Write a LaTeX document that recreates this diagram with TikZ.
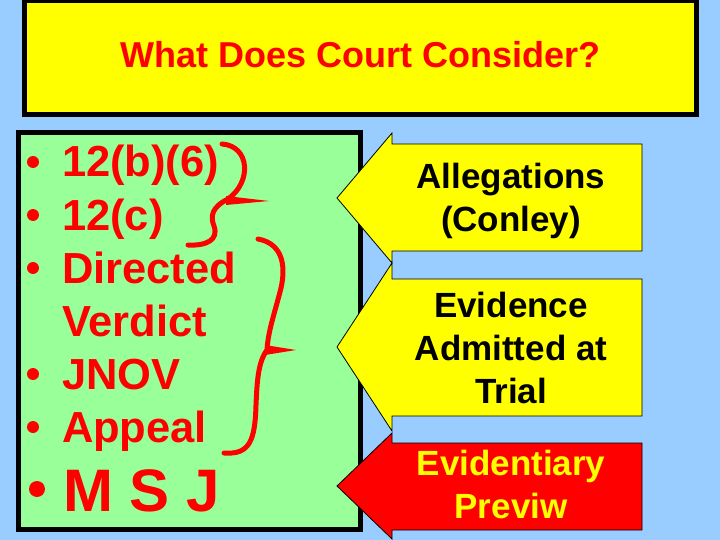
\documentclass[tikz,border=0pt]{standalone}
\usepackage{fontspec}
\setmainfont{Liberation Sans}
\definecolor{bgblue}{HTML}{99CCFF}
\definecolor{boxyellow}{HTML}{FFFF00}
\definecolor{boxgreen}{HTML}{99FF99}
\definecolor{redtxt}{HTML}{FF0000}
\begin{document}
\begin{tikzpicture}[x=1pt,y=-1pt,
  lbl/.style={inner sep=0pt,outer sep=0pt,font=\bfseries\fontsize{43.5}{53}\selectfont,text=redtxt,anchor=base west},
  arrtxt/.style={inner sep=0pt,outer sep=0pt,font=\bfseries\fontsize{35}{43}\selectfont,anchor=base,align=center},
  arrowshape/.style={draw=black,line width=0.8pt,line join=miter},
  brace/.style={draw=redtxt,line width=5pt,line cap=round,line join=round},
  dot/.style={circle,fill=redtxt,inner sep=0pt}]
\useasboundingbox (0,0) rectangle (720,540);
\fill[bgblue] (0,0) rectangle (720,540);
% title box
\draw[fill=boxyellow,line width=5pt] (24.5,1) rectangle (696.5,114.5);
\node[inner sep=0pt,anchor=base,text=redtxt,font=\bfseries\fontsize{36}{40}\selectfont] (title) at (361,68) {What Does Court Consider?};
% green box
\draw[fill=boxgreen,line width=5pt] (18.5,132.5) rectangle (360.5,529.5);
% bullets
\node[dot,minimum size=12pt] (d1) at (33,162) {};
\node[dot,minimum size=12pt] (d2) at (33,215) {};
\node[dot,minimum size=12pt] (d3) at (33,268) {};
\node[dot,minimum size=12pt] (d4) at (33,374) {};
\node[dot,minimum size=12pt] (d5) at (33,427) {};
\node[dot,minimum size=16pt] (d6) at (37,489) {};
\node[lbl] (l1) at (62,177) {12(b)(6)};
\node[lbl] (l2) at (62,230) {12(c)};
\node[lbl] (l3) at (62,283) {Directed};
\node[lbl] (l4) at (62,336) {Verdict};
\node[lbl] (l5) at (62,389) {JNOV};
\node[lbl] (l6) at (62,442) {Appeal};
\node[lbl,font=\bfseries\fontsize{60}{70}\selectfont] (l7) at (63,511) {M S J};
% braces
\draw[brace] (222,144) .. controls (250,146) and (252,182) .. (228,199)
  .. controls (212,207) and (210,216) .. (214,226)
  .. controls (219,240) and (206,246) .. (188,245);
\fill[redtxt] (226,196) -- (269,201) -- (226,205) -- cycle;
\draw[brace] (258,239) .. controls (285,244) and (286,270) .. (280,292)
  .. controls (274,315) and (268,332) .. (267,350)
  .. controls (258,362) and (257,382) .. (256,405)
  .. controls (255,440) and (250,455) .. (224,453);
\fill[redtxt] (265,345) -- (296,350) -- (265,355) -- cycle;
% arrows
\draw[arrowshape,fill=boxyellow] (337,198) -- (392,133) -- (392,144) -- (642,144) -- (642,251) -- (392,251) -- (392,263) -- cycle;
\draw[arrowshape,fill=boxyellow] (337,347) -- (392,263) -- (392,279) -- (642,279) -- (642,416) -- (392,416) -- (392,431) -- cycle;
\draw[arrowshape,fill=redtxt] (337,486) -- (392,433) -- (392,443) -- (642,443) -- (642,530) -- (392,530) -- (392,539) -- cycle;
\node[arrtxt] (a1) at (511,231) {Allegations\\(Conley)};
\node[arrtxt] (a2) at (511,403) {Evidence\\Admitted at\\Trial};
\node[arrtxt,text=boxyellow] (a3) at (511,518) {Evidentiary\\Previw};
\end{tikzpicture}
\end{document}
